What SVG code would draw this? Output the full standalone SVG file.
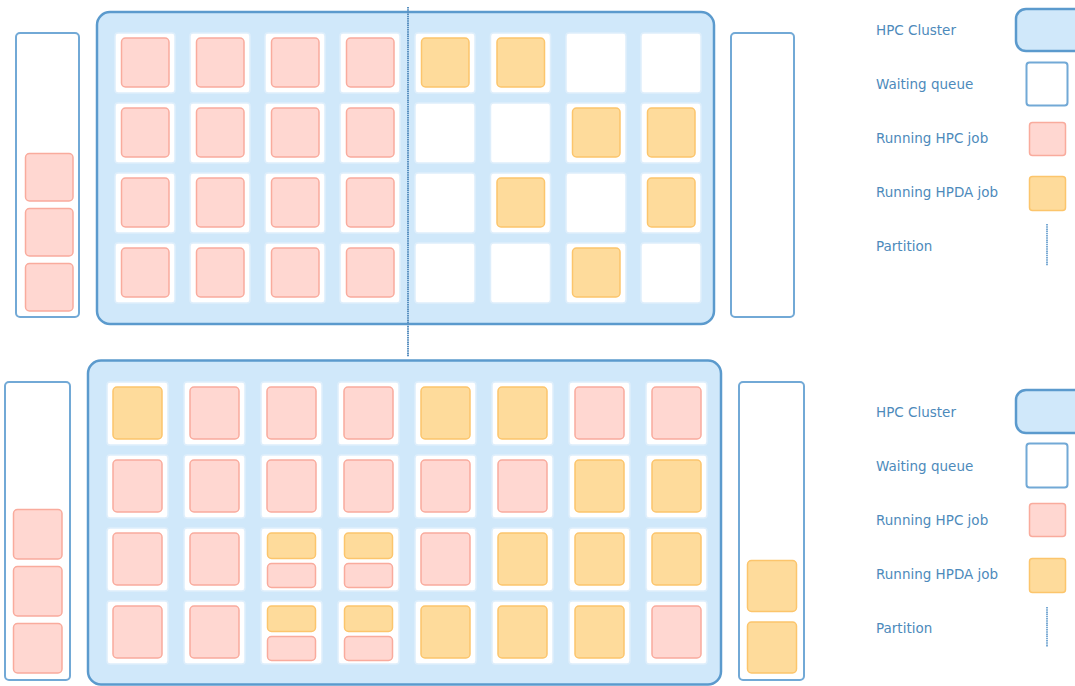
<svg xmlns="http://www.w3.org/2000/svg" width="1075" height="686" viewBox="0 0 1075 686">
<style>
.cluster{fill:#d0e8fa;stroke:#5b9acd;stroke-width:2.5}
.queue{fill:#ffffff;stroke:#72a9d6;stroke-width:2}
.cell{fill:#ffffff;stroke:#deeefb;stroke-width:1.5}
.hpc{fill:#ffd7d1;stroke:#f9ab9d;stroke-width:1.5}
.hpda{fill:#fedb9b;stroke:#fcc56c;stroke-width:1.5}
.part{stroke:#5a90c0;stroke-width:2;stroke-dasharray:1.5 0.7;fill:none}
.lpart{stroke:#7aaad4;stroke-width:2;stroke-dasharray:1.5 0.7;fill:none}
.lbl{font-family:"DejaVu Sans",Verdana,sans-serif;font-size:13.5px;fill:#4d8abb}
</style>
<defs>
<g id="tc"><rect class="cell" x="0" y="0" width="60" height="60" rx="3"/></g>
<g id="tH"><rect class="cell" x="0" y="0" width="60" height="60" rx="3"/><rect class="hpc" x="6.5" y="5" width="47.5" height="49" rx="4"/></g>
<g id="tD"><rect class="cell" x="0" y="0" width="60" height="60" rx="3"/><rect class="hpda" x="6.5" y="5" width="47.5" height="49" rx="4"/></g>
<g id="bH"><rect class="cell" x="0" y="0" width="61" height="63" rx="3"/><rect class="hpc" x="6" y="5" width="49" height="52" rx="4"/></g>
<g id="bD"><rect class="cell" x="0" y="0" width="61" height="63" rx="3"/><rect class="hpda" x="6" y="5" width="49" height="52" rx="4"/></g>
<g id="bS"><rect class="cell" x="0" y="0" width="61" height="63" rx="3"/><rect class="hpda" x="6.5" y="5" width="48" height="25.5" rx="4"/><rect class="hpc" x="6.5" y="35.5" width="48" height="24" rx="4"/></g>
</defs>

<g id="top-queue-left">
<rect class="queue" x="16" y="33" width="63" height="284" rx="4"/>
<rect class="hpc" x="25.5" y="153.5" width="47.5" height="47.5" rx="4"/>
<rect class="hpc" x="25.5" y="208.5" width="47.5" height="47.5" rx="4"/>
<rect class="hpc" x="25.5" y="263.5" width="47.5" height="47.5" rx="4"/>
</g>
<g id="top-queue-right">
<rect class="queue" x="731" y="33" width="63" height="284" rx="4"/>
</g>

<g id="top-cluster">
<rect class="cluster" x="97" y="12" width="617" height="312" rx="13"/>
<use href="#tH" x="115" y="33"/><use href="#tH" x="190" y="33"/><use href="#tH" x="265" y="33"/><use href="#tH" x="340" y="33"/><use href="#tD" x="415" y="33"/><use href="#tD" x="490.5" y="33"/><use href="#tc" x="566" y="33"/><use href="#tc" x="641" y="33"/>
<use href="#tH" x="115" y="103"/><use href="#tH" x="190" y="103"/><use href="#tH" x="265" y="103"/><use href="#tH" x="340" y="103"/><use href="#tc" x="415" y="103"/><use href="#tc" x="490.5" y="103"/><use href="#tD" x="566" y="103"/><use href="#tD" x="641" y="103"/>
<use href="#tH" x="115" y="173"/><use href="#tH" x="190" y="173"/><use href="#tH" x="265" y="173"/><use href="#tH" x="340" y="173"/><use href="#tc" x="415" y="173"/><use href="#tD" x="490.5" y="173"/><use href="#tc" x="566" y="173"/><use href="#tD" x="641" y="173"/>
<use href="#tH" x="115" y="243"/><use href="#tH" x="190" y="243"/><use href="#tH" x="265" y="243"/><use href="#tH" x="340" y="243"/><use href="#tc" x="415" y="243"/><use href="#tc" x="490.5" y="243"/><use href="#tD" x="566" y="243"/><use href="#tc" x="641" y="243"/>
</g>

<g id="connectors">
<line class="part" x1="408" y1="7" x2="408" y2="357"/>
</g>

<g id="bottom-queue-left">
<rect class="queue" x="5" y="382" width="65" height="298" rx="4"/>
<rect class="hpc" x="13.5" y="509.5" width="48.5" height="49.5" rx="4"/>
<rect class="hpc" x="13.5" y="566.5" width="48.5" height="49.5" rx="4"/>
<rect class="hpc" x="13.5" y="623.5" width="48.5" height="49.5" rx="4"/>
</g>
<g id="bottom-queue-right">
<rect class="queue" x="739" y="382" width="65" height="298" rx="4"/>
<rect class="hpda" x="747.5" y="560.5" width="49" height="51" rx="4"/>
<rect class="hpda" x="747.5" y="622" width="49" height="51" rx="4"/>
</g>

<g id="bottom-cluster">
<rect class="cluster" x="88" y="360.5" width="633" height="324" rx="13"/>
<use href="#bD" x="107" y="382"/><use href="#bH" x="184" y="382"/><use href="#bH" x="261" y="382"/><use href="#bH" x="338" y="382"/><use href="#bD" x="415" y="382"/><use href="#bD" x="492" y="382"/><use href="#bH" x="569" y="382"/><use href="#bH" x="646" y="382"/>
<use href="#bH" x="107" y="455"/><use href="#bH" x="184" y="455"/><use href="#bH" x="261" y="455"/><use href="#bH" x="338" y="455"/><use href="#bH" x="415" y="455"/><use href="#bH" x="492" y="455"/><use href="#bD" x="569" y="455"/><use href="#bD" x="646" y="455"/>
<use href="#bH" x="107" y="528"/><use href="#bH" x="184" y="528"/><use href="#bS" x="261" y="528"/><use href="#bS" x="338" y="528"/><use href="#bH" x="415" y="528"/><use href="#bD" x="492" y="528"/><use href="#bD" x="569" y="528"/><use href="#bD" x="646" y="528"/>
<use href="#bH" x="107" y="601"/><use href="#bH" x="184" y="601"/><use href="#bS" x="261" y="601"/><use href="#bS" x="338" y="601"/><use href="#bD" x="415" y="601"/><use href="#bD" x="492" y="601"/><use href="#bD" x="569" y="601"/><use href="#bH" x="646" y="601"/>
</g>

<g id="legend-top">
<text class="lbl" x="876" y="35">HPC Cluster</text>
<rect class="cluster" x="1016" y="9" width="70" height="42" rx="10"/>
<text class="lbl" x="876" y="89">Waiting queue</text>
<rect class="queue" x="1026.5" y="62.5" width="41" height="43" rx="3"/>
<text class="lbl" x="876" y="143">Running HPC job</text>
<rect class="hpc" x="1029.5" y="122.5" width="36" height="33" rx="3"/>
<text class="lbl" x="876" y="197">Running HPDA job</text>
<rect class="hpda" x="1029.5" y="176.5" width="36" height="34" rx="3"/>
<text class="lbl" x="876" y="251">Partition</text>
<line class="lpart" x1="1047" y1="224" x2="1047" y2="266"/>
</g>

<g id="legend-bottom">
<text class="lbl" x="876" y="417">HPC Cluster</text>
<rect class="cluster" x="1016" y="390" width="70" height="43" rx="10"/>
<text class="lbl" x="876" y="471">Waiting queue</text>
<rect class="queue" x="1026.5" y="443.5" width="41" height="44" rx="3"/>
<text class="lbl" x="876" y="525">Running HPC job</text>
<rect class="hpc" x="1029.5" y="503.5" width="36" height="33" rx="3"/>
<text class="lbl" x="876" y="579">Running HPDA job</text>
<rect class="hpda" x="1029.5" y="558.5" width="36" height="34" rx="3"/>
<text class="lbl" x="876" y="633">Partition</text>
<line class="lpart" x1="1047" y1="607" x2="1047" y2="647"/>
</g>
</svg>
